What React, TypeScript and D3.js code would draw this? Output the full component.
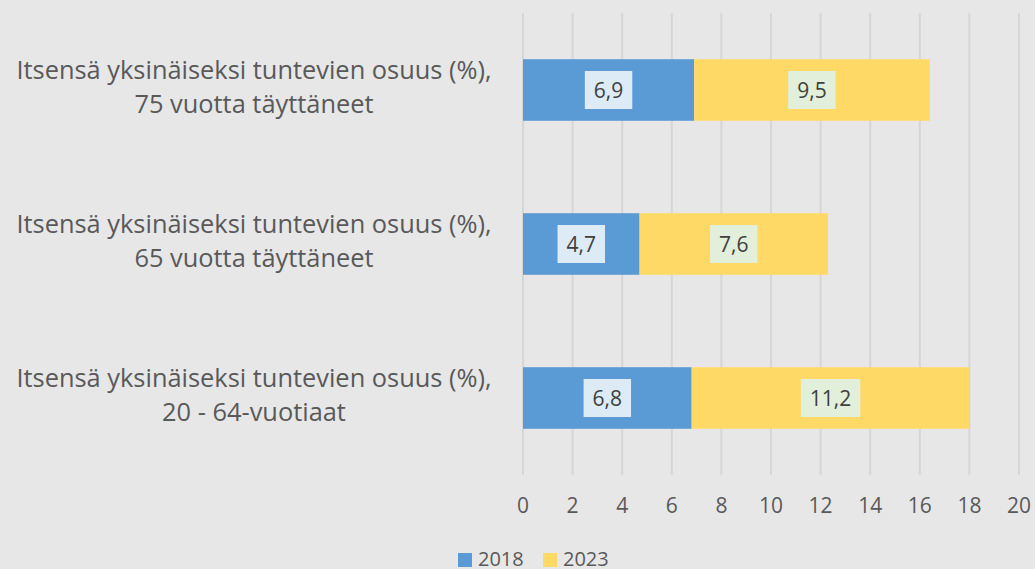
import React, { useEffect, useRef } from "react";
import * as d3 from "d3";

const categories = [
  ["Itsensä yksinäiseksi tuntevien osuus (%),", "75 vuotta täyttäneet"],
  ["Itsensä yksinäiseksi tuntevien osuus (%),", "65 vuotta täyttäneet"],
  ["Itsensä yksinäiseksi tuntevien osuus (%),", "20 - 64-vuotiaat"],
];
const series2018 = [6.9, 4.7, 6.8];
const series2023 = [9.5, 7.6, 11.2];
const seriesNames = ["2018", "2023"];
const xTicks = [0, 2, 4, 6, 8, 10, 12, 14, 16, 18, 20];

const W = 1035;
const H = 569;
const FONT = "'Open Sans', sans-serif";
const colors = ["#5b9bd5", "#ffd966"];
const labelBg = ["#ddebf7", "#e2efda"];

export default function App() {
  const ref = useRef<SVGSVGElement>(null);
  useEffect(() => {
    const svg = d3.select(ref.current);
    svg.selectAll("*").remove();
    svg.append("rect").attr("width", W).attr("height", H).attr("fill", "#e7e7e8");

    const x = d3.scaleLinear().domain([0, 20]).range([523, 1019]);
    const y = d3.scaleBand<number>().domain([0, 1, 2]).range([13, 475]).paddingInner(0.6).paddingOuter(0.3);

    const g = svg.append("g");
    g.selectAll("line.grid")
      .data(xTicks)
      .join("line")
      .attr("x1", (d) => x(d))
      .attr("x2", (d) => x(d))
      .attr("y1", 13)
      .attr("y2", 475)
      .attr("stroke", "#d6d6d6")
      .attr("stroke-width", 2);

    g.selectAll("text.tick")
      .data(xTicks)
      .join("text")
      .attr("x", (d) => x(d))
      .attr("y", 513)
      .attr("text-anchor", "middle")
      .attr("font-family", FONT)
      .attr("font-size", 21)
      .attr("fill", "#595959")
      .text((d) => String(d));

    const stacks = categories.map((_, i) => {
      const a = series2018[i];
      const b = series2023[i];
      return [
        { s: 0, x0: 0, x1: a, v: a, i },
        { s: 1, x0: a, x1: a + b, v: b, i },
      ];
    }).flat();

    const bh = y.bandwidth();
    g.selectAll("rect.bar")
      .data(stacks)
      .join("rect")
      .attr("x", (d) => x(d.x0))
      .attr("y", (d) => y(d.i)!)
      .attr("width", (d) => x(d.x1) - x(d.x0))
      .attr("height", bh)
      .attr("fill", (d) => colors[d.s]);

    stacks.forEach((d) => {
      const cx = (x(d.x0) + x(d.x1)) / 2;
      const cy = y(d.i)! + bh / 2;
      const lg = g.append("g");
      const rect = lg.append("rect").attr("fill", labelBg[d.s]);
      const t = lg
        .append("text")
        .attr("x", cx)
        .attr("y", cy + 7.5)
        .attr("text-anchor", "middle")
        .attr("font-family", FONT)
        .attr("font-size", 21)
        .attr("fill", "#404040")
        .text(String(d.v).replace(".", ","));
      const tw = (t.node() as SVGTextElement).getComputedTextLength();
      rect
        .attr("x", cx - tw / 2 - 9)
        .attr("y", cy - 19)
        .attr("width", tw + 18)
        .attr("height", 38);
    });

    categories.forEach((lines, i) => {
      const cy = y(i)! + bh / 2;
      const t = g
        .append("text")
        .attr("text-anchor", "middle")
        .attr("font-family", FONT)
        .attr("font-size", 25.4)
        .attr("fill", "#595959");
      lines.forEach((ln, k) => {
        t.append("tspan").attr("x", 254).attr("y", cy - 11 + k * 34).text(ln);
      });
    });

    const legend = svg.append("g");
    const items = [
      { x: 458, tx: 478 },
      { x: 543, tx: 563 },
    ];
    seriesNames.forEach((n, k) => {
      legend.append("rect").attr("x", items[k].x).attr("y", 553).attr("width", 14).attr("height", 14).attr("fill", colors[k]);
      legend
        .append("text")
        .attr("x", items[k].tx)
        .attr("y", 566)
        .attr("font-family", FONT)
        .attr("font-size", 20)
        .attr("fill", "#595959")
        .text(n);
    });
  }, []);

  return (
    <svg ref={ref} width={W} height={H} style={{ position: "absolute", left: 0, top: 0, display: "block" }} />
  );
}
